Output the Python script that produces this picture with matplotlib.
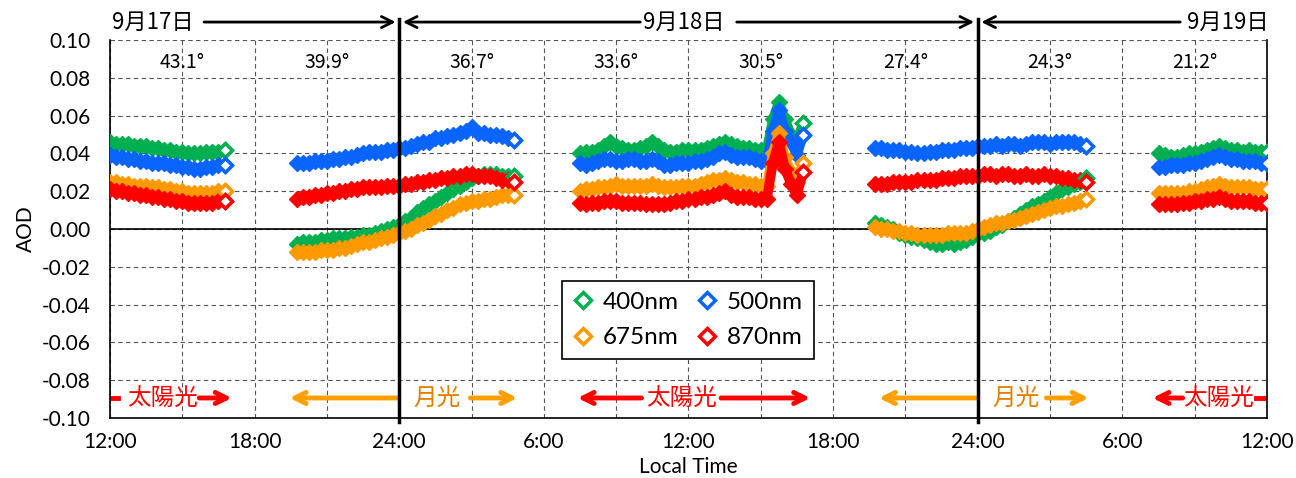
import numpy as np
import matplotlib.pyplot as plt
from matplotlib.lines import Line2D

plt.rcParams['font.family'] = ['Lato', 'DejaVu Sans']
jp = ['Noto Sans CJK JP', 'DejaVu Sans']

# hours since 12:00 on 9/17, AOD in units of 0.001, one sample every 15 min
step = 0.25

# 9/17 daytime (sun)
s1_t0 = 0.0
s1_400 = [46, 45, 45, 45, 44, 44, 44, 43, 43, 42, 42, 41, 41, 40, 40, 40, 41, 41, 41, 42]
s1_500 = [39, 38, 38, 37, 37, 36, 36, 35, 35, 35, 34, 34, 33, 33, 32, 32, 33, 33, 34, 34]
s1_675 = [25, 25, 24, 24, 23, 23, 23, 22, 22, 21, 21, 20, 20, 19, 19, 19, 19, 19, 20, 20]
s1_870 = [21, 20, 20, 19, 19, 18, 18, 17, 17, 16, 16, 15, 15, 14, 14, 14, 14, 14, 15, 15]

# 9/17-18 night (moon)
s2_t0 = 7.75
s2_400 = [-8, -7, -7, -7, -6, -6, -5, -5, -5, -4, -4, -3, -3, -2, -1, 0, 1, 2, 4, 6,
          9, 11, 13, 15, 17, 19, 21, 23, 25, 27, 28, 29, 29, 29, 28, 28, 28]
s2_500 = [35, 35, 35, 36, 36, 36, 37, 37, 38, 38, 39, 40, 41, 41, 41, 42, 42, 43, 43, 44,
          45, 46, 46, 48, 48, 49, 50, 51, 52, 54, 51, 51, 50, 50, 49, 48, 47]
s2_675 = [-12, -12, -12, -12, -11, -11, -11, -10, -10, -9, -8, -7, -7, -6, -5, -4, -3, -2, -1, 0,
          2, 3, 5, 7, 8, 10, 11, 13, 14, 15, 15, 16, 16, 17, 18, 18, 18]
s2_870 = [16, 17, 17, 18, 18, 19, 19, 20, 20, 21, 21, 22, 22, 22, 22, 23, 23, 23, 24, 24,
          25, 25, 26, 26, 27, 27, 28, 28, 29, 29, 28, 28, 28, 27, 26, 26, 25]

# 9/18 daytime (sun)
s3_t0 = 19.5
s3_400 = [40, 41, 41, 42, 44, 46, 44, 43, 42, 42, 43, 44, 46, 44, 42, 41, 41, 42, 42, 42,
          42, 43, 44, 45, 46, 45, 44, 43, 43, 42, 42, 42, 58, 67, 58, 50, 46, 56]
s3_500 = [35, 34, 35, 36, 37, 37, 36, 36, 37, 37, 36, 36, 37, 36, 34, 34, 35, 35, 35, 36,
          36, 37, 38, 40, 41, 39, 38, 38, 38, 37, 36, 36, 52, 63, 52, 46, 39, 50]
s3_675 = [20, 21, 21, 22, 22, 23, 24, 23, 23, 23, 23, 23, 24, 23, 22, 22, 22, 23, 23, 23,
          24, 25, 26, 26, 27, 26, 25, 25, 24, 24, 23, 23, 40, 51, 38, 30, 25, 35]
s3_870 = [14, 13, 14, 14, 15, 15, 15, 14, 14, 14, 14, 13, 13, 13, 13, 14, 15, 15, 16, 16,
          17, 17, 18, 19, 20, 18, 17, 17, 17, 16, 16, 16, 35, 46, 32, 24, 18, 30]

# 9/18-19 night (moon)
s4_t0 = 31.75
s4_400 = [3, 2, 1, 0, -2, -3, -4, -5, -6, -7, -8, -8, -7, -8, -7, -6, -4, -2, -2, -1,
          1, 2, 4, 6, 8, 10, 12, 13, 15, 17, 19, 21, 22, 24, 25, 27]
s4_500 = [43, 43, 42, 42, 42, 41, 41, 40, 40, 41, 41, 42, 42, 42, 43, 43, 43, 44, 44, 44,
          45, 44, 45, 45, 44, 45, 46, 46, 46, 45, 46, 46, 46, 46, 45, 44]
s4_675 = [1, 0, 0, -1, -1, -2, -2, -3, -3, -3, -3, -3, -2, -2, -2, -2, -1, 0, 1, 2,
          3, 3, 4, 5, 6, 7, 8, 9, 10, 11, 12, 12, 13, 14, 15, 16]
s4_870 = [24, 24, 24, 25, 25, 25, 25, 26, 26, 26, 26, 27, 27, 27, 28, 28, 28, 28, 29, 29,
          28, 29, 29, 28, 28, 29, 28, 28, 29, 28, 28, 27, 27, 26, 26, 25]

# 9/19 daytime (sun)
s5_t0 = 43.5
s5_400 = [40, 39, 38, 38, 39, 40, 40, 41, 42, 43, 44, 43, 42, 42, 41, 42, 41, 41, 41]
s5_500 = [33, 33, 34, 34, 34, 35, 35, 36, 37, 38, 39, 38, 37, 37, 36, 36, 36, 35, 35]
s5_675 = [19, 19, 19, 19, 19, 20, 20, 21, 22, 23, 24, 23, 22, 22, 22, 22, 21, 21, 21]
s5_870 = [13, 13, 13, 13, 14, 14, 15, 15, 16, 16, 17, 16, 15, 15, 15, 15, 14, 14, 14]

bands = ['400nm', '500nm', '675nm', '870nm']
colors = ['#00B050', '#0A64FF', '#FF9900', '#FF0000']
segments = [
    (s1_t0, [s1_400, s1_500, s1_675, s1_870]),
    (s2_t0, [s2_400, s2_500, s2_675, s2_870]),
    (s3_t0, [s3_400, s3_500, s3_675, s3_870]),
    (s4_t0, [s4_400, s4_500, s4_675, s4_870]),
    (s5_t0, [s5_400, s5_500, s5_675, s5_870]),
]

angles = ['43.1°', '39.9°', '36.7°', '33.6°', '30.5°', '27.4°', '24.3°', '21.2°']
angle_hours = [3, 9, 15, 21, 27, 33, 39, 45]
xlabels = ['12:00', '18:00', '24:00', '6:00', '12:00', '18:00', '24:00', '6:00', '12:00']

fig = plt.figure(figsize=(12.96, 4.78), dpi=100)
ax = fig.add_axes([0.0849, 0.1255, 0.8927, 0.7908])

for t0, vals in segments:
    for v, c in zip(vals, colors):
        t = t0 + step * np.arange(len(v))
        y = np.array(v) / 1000
        ax.plot(t, y, color=c, lw=7, marker='D', ms=8, mec=c, mfc=c,
                solid_capstyle='round', zorder=3)
        ax.plot(t[-1], y[-1], marker='D', ms=7, mec=c, mfc='white', mew=2.5, zorder=4)

ax.set_xlim(0, 48)
ax.set_ylim(-0.1, 0.1)
ax.set_xticks(np.arange(0, 49, 6))
ax.set_xticklabels(xlabels)
ax.set_xticks(np.arange(0, 49, 3), minor=True)
yt = np.arange(-0.1, 0.1001, 0.02)
ax.set_yticks(yt)
ax.set_yticklabels(['%.2f' % v if abs(v) > 1e-9 else '0.00' for v in yt])
ax.grid(which='both', linestyle=(0, (4, 3)), color='#555555', lw=0.8)
ax.tick_params(which='both', length=0, labelsize=15)
ax.tick_params(axis='y', pad=14)
ax.tick_params(axis='x', pad=10)
ax.spines['top'].set_visible(False)
for s in ['left', 'right', 'bottom']:
    ax.spines[s].set_linewidth(1.2)
ax.axhline(0, color='black', lw=1.2, zorder=2)
ax.set_xlabel('Local Time', fontsize=15, labelpad=4)
ax.set_ylabel('AOD', fontsize=15, labelpad=4)

# midnight lines
for h in [12, 36]:
    ax.plot([h, h], [-0.102, 0.111], color='black', lw=2.5, clip_on=False, zorder=5)

# solar zenith angle labels
for h, a in zip(angle_hours, angles):
    ax.text(h, 0.088, a, family=jp, fontsize=14, ha='center', va='center')


def arrow(x0, x1, y, color, lw):
    ax.annotate('', xy=(x1, y), xytext=(x0, y),
                arrowprops=dict(arrowstyle='->,head_length=0.8,head_width=0.4',
                                color=color, lw=lw, shrinkA=0, shrinkB=0),
                annotation_clip=False)


# dates on top
yt_ = 0.1095
ax.text(0.1, yt_, '9月17日', family=jp, fontsize=16, ha='left', va='center')
arrow(3.9, 11.85, yt_, 'black', 2)
arrow(22.0, 12.15, yt_, 'black', 2)
ax.text(23.8, yt_, '9月18日', family=jp, fontsize=16, ha='center', va='center')
arrow(26.0, 35.85, yt_, 'black', 2)
arrow(44.4, 36.15, yt_, 'black', 2)
ax.text(48.05, yt_, '9月19日', family=jp, fontsize=16, ha='right', va='center')

# sun / moon light periods
yb = -0.0894
red = '#FF0000'
org = '#FFA000'
org_txt = '#E08000'
ax.plot([0.0, 0.35], [yb, yb], color=red, lw=3.5)
ax.text(2.2, yb, '太陽光', family=jp, fontsize=17, color=red, ha='center', va='center')
arrow(3.7, 5.05, yb, red, 3.5)

arrow(11.95, 7.45, yb, org, 3.5)
ax.text(13.55, yb, '月光', family=jp, fontsize=17, color=org_txt, ha='center', va='center')
arrow(14.95, 16.9, yb, org, 3.5)

arrow(22.05, 19.4, yb, red, 3.5)
ax.text(23.7, yb, '太陽光', family=jp, fontsize=17, color=red, ha='center', va='center')
arrow(25.35, 29.05, yb, red, 3.5)

arrow(35.95, 31.9, yb, org, 3.5)
ax.text(37.6, yb, '月光', family=jp, fontsize=17, color=org_txt, ha='center', va='center')
arrow(38.85, 40.6, yb, org, 3.5)

arrow(44.5, 43.25, yb, red, 3.5)
ax.text(46.0, yb, '太陽光', family=jp, fontsize=17, color=red, ha='center', va='center')
ax.plot([47.55, 48.0], [yb, yb], color=red, lw=3.5)

# legend rows: 400/500 then 675/870 (matplotlib fills columns first)
order = [0, 2, 1, 3]
handles = [Line2D([], [], ls='none', marker='D', ms=8, mec=colors[i], mfc='white', mew=2.5)
           for i in order]
leg = ax.legend(handles, [bands[i] for i in order], loc='center',
                bbox_to_anchor=(0.4996, 0.259), ncol=2,
                fontsize=17.5, frameon=True, fancybox=False, edgecolor='black', framealpha=1,
                handlelength=0.8, handletextpad=0.4, columnspacing=0.8, borderpad=0.45,
                labelspacing=0.6)
leg.get_frame().set_linewidth(1.2)

fig.savefig('out.png', dpi=100)
